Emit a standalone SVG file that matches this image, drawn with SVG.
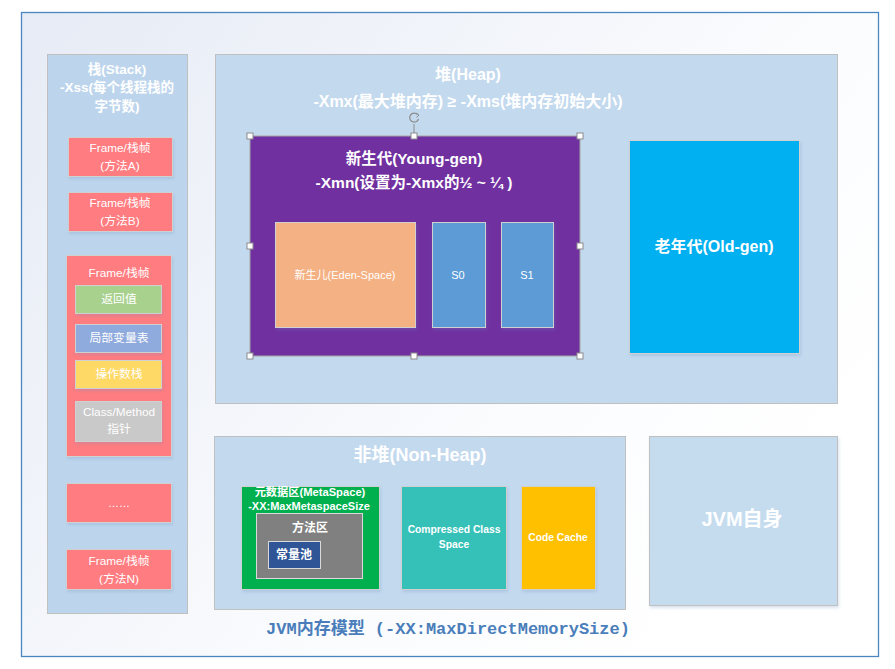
<svg xmlns="http://www.w3.org/2000/svg" width="895" height="669" viewBox="0 0 895 669">
<defs>
<linearGradient id="bg" x1="0" y1="0" x2="1" y2="0.6">
<stop offset="0" stop-color="#e6ebf5"/>
<stop offset="0.7" stop-color="#fbfcfe"/>
<stop offset="1" stop-color="#ffffff"/>
</linearGradient>
<filter id="sh" x="-10%" y="-10%" width="125%" height="125%">
<feDropShadow dx="1" dy="2" stdDeviation="1.5" flood-color="#6a8fc0" flood-opacity="0.25"/>
</filter>
<style>
text{font-family:"Liberation Sans","Noto Sans CJK SC",sans-serif;fill:#ffffff;text-anchor:middle;dominant-baseline:central}
.b{font-weight:bold}
.panel{stroke:#c0c0c0;stroke-width:1}
.box{stroke:#d0d0d0;stroke-width:1;filter:url(#sh)}
.f11{font-size:11px}
.f12{font-size:12px}
.fr{font-size:11.8px}
.h{fill:#ffffff;stroke:#8c8c8c;stroke-width:1}
</style>
</defs>
<rect x="0" y="0" width="895" height="669" fill="#ffffff"/>
<rect id="frame" x="21.5" y="12.5" width="857" height="644" fill="url(#bg)" stroke="#4a86c0" stroke-width="1.3"/>

<g id="stack">
<rect class="panel" x="47.5" y="54.5" width="140" height="559" fill="#bdd5ec"/>
<text class="b" x="117" y="69" font-size="13.5">栈(Stack)</text>
<text class="b" x="117" y="87" font-size="13.5">-Xss(每个线程栈的</text>
<text class="b" x="117" y="106" font-size="13.5">字节数)</text>
</g>
<g id="frameA">
<rect class="box" x="68.5" y="137.5" width="104" height="39" fill="#ff7c80"/>
<text class="fr" x="120" y="148">Frame/栈帧</text>
<text class="fr" x="120" y="166">(方法A)</text>
</g>
<g id="frameB">
<rect class="box" x="68.5" y="192.5" width="104" height="39" fill="#ff7c80"/>
<text class="fr" x="120" y="203">Frame/栈帧</text>
<text class="fr" x="120" y="221">(方法B)</text>
</g>
<g id="frameCur">
<rect class="box" x="66.5" y="255.5" width="105" height="201" fill="#ff7c80"/>
<text class="fr" x="119" y="273">Frame/栈帧</text>
</g>
<g id="retval">
<rect class="box" x="75.5" y="285.5" width="86" height="28" fill="#a9d18e"/>
<text class="fr" x="119" y="299">返回值</text>
</g>
<g id="localvars">
<rect class="box" x="75.5" y="324.5" width="86" height="28" fill="#8faadc"/>
<text class="fr" x="119" y="338">局部变量表</text>
</g>
<g id="opstack">
<rect class="box" x="75.5" y="360.5" width="86" height="28" fill="#ffd966"/>
<text class="fr" x="119" y="374">操作数栈</text>
</g>
<g id="classptr">
<rect class="box" x="75.5" y="401.5" width="86" height="40" fill="#c9c9c9"/>
<text class="fr" x="119" y="412">Class/Method</text>
<text class="fr" x="119" y="429">指针</text>
</g>
<g id="frameDots">
<rect class="box" x="66.5" y="483.5" width="105" height="39" fill="#ff7c80"/>
<text class="f11" x="119" y="503">……</text>
</g>
<g id="frameN">
<rect class="box" x="66.5" y="549.5" width="105" height="40" fill="#ff7c80"/>
<text class="fr" x="119" y="561">Frame/栈帧</text>
<text class="fr" x="119" y="579">(方法N)</text>
</g>

<g id="heap">
<rect class="panel" x="215.5" y="54.5" width="622" height="349" fill="#c3d9ee"/>
<text class="b" x="468" y="74" font-size="16">堆(Heap)</text>
<text class="b" x="468" y="101" font-size="16">-Xmx(最大堆内存) ≥ -Xms(堆内存初始大小)</text>
</g>
<g id="younggen">
<rect x="250" y="136" width="330" height="220" fill="#7030a0" stroke="#a6a6a6" stroke-width="1"/>
<text class="b" x="414" y="158" font-size="15.5">新生代(Young-gen)</text>
<text class="b" x="414" y="182" font-size="15.5">-Xmn(设置为-Xmx的½ ~ ¼ )</text>
<line x1="414" y1="124" x2="414" y2="136" stroke="#8c8c8c" stroke-width="1"/>
<path d="M417.5 114.5 A4.5 4.5 0 1 0 418.5 119" fill="none" stroke="#8c8c8c" stroke-width="1.2"/>
<path d="M416 113 L419 115 L416.5 117.5" fill="none" stroke="#8c8c8c" stroke-width="1"/>
<rect class="h" x="247" y="133" width="6" height="6"/>
<rect class="h" x="411" y="133" width="6" height="6"/>
<rect class="h" x="577" y="133" width="6" height="6"/>
<rect class="h" x="247" y="243" width="6" height="6"/>
<rect class="h" x="577" y="243" width="6" height="6"/>
<rect class="h" x="247" y="353" width="6" height="6"/>
<rect class="h" x="411" y="353" width="6" height="6"/>
<rect class="h" x="577" y="353" width="6" height="6"/>
</g>
<g id="eden">
<rect class="box" x="275.5" y="222.5" width="140" height="105" fill="#f4b183"/>
<text class="f11" x="345" y="275">新生儿(Eden-Space)</text>
</g>
<g id="s0">
<rect class="box" x="432.5" y="222.5" width="53" height="105" fill="#5b9bd5"/>
<text class="f11" x="458" y="275">S0</text>
</g>
<g id="s1">
<rect class="box" x="501.5" y="222.5" width="52" height="105" fill="#5b9bd5"/>
<text class="f11" x="527" y="275">S1</text>
</g>
<g id="oldgen">
<rect class="box" x="629.5" y="140.5" width="170" height="213" fill="#00b0f0"/>
<text class="b" x="714" y="246" font-size="16">老年代(Old-gen)</text>
</g>

<g id="nonheap">
<rect class="panel" x="214.5" y="436.5" width="411" height="173" fill="#c3d9ee"/>
<text class="b" x="420" y="455" font-size="18">非堆(Non-Heap)</text>
</g>
<g id="metaspace">
<rect class="box" x="241.5" y="486.5" width="138" height="103" fill="#00b050"/>
<text class="b" x="310" y="492" font-size="11.2">元数据区(MetaSpace)</text>
<text class="b" x="309" y="506" font-size="11">-XX:MaxMetaspaceSize</text>
</g>
<g id="methodarea">
<rect x="256.5" y="513.5" width="106" height="65" fill="#808080" stroke="#d9d9d9" stroke-width="1"/>
<text class="b f12" x="310" y="528">方法区</text>
</g>
<g id="constpool">
<rect x="268.5" y="541.5" width="52" height="27" fill="#2f5597" stroke="#d9d9d9" stroke-width="1"/>
<text class="b f12" x="294" y="555">常量池</text>
</g>
<g id="ccs">
<rect class="box" x="401.5" y="486.5" width="105" height="103" fill="#34c0b8"/>
<text class="b" x="454" y="529" font-size="10.3">Compressed Class</text>
<text class="b" x="454" y="544" font-size="10.3">Space</text>
</g>
<g id="codecache">
<rect class="box" x="521.5" y="486.5" width="74" height="103" fill="#ffc000"/>
<text class="b" x="558" y="537" font-size="10.3">Code Cache</text>
</g>
<g id="jvmself">
<rect class="panel" x="649.5" y="436.5" width="188" height="169" fill="#c5dcef" filter="url(#sh)"/>
<text class="b" x="742" y="519" font-size="20">JVM自身</text>
</g>
<g id="connectors"></g>
<text id="caption" class="b" x="448" y="629" font-size="17" style="font-family:'Liberation Mono','Noto Sans CJK SC',monospace;fill:#4a7ebb">JVM内存模型 (-XX:MaxDirectMemorySize)</text>
</svg>
